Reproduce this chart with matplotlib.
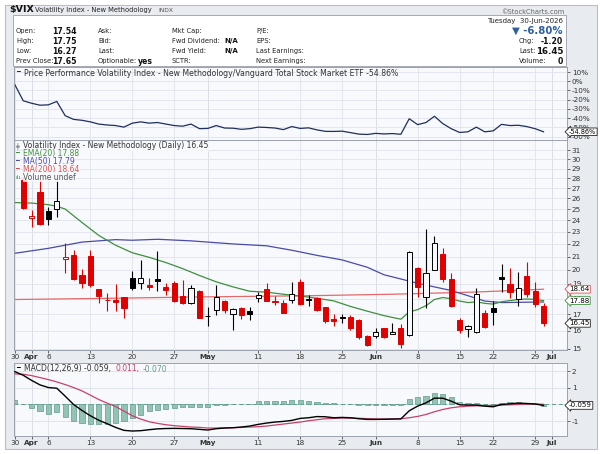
import numpy as np
import matplotlib.pyplot as plt
from matplotlib.patches import Rectangle

W, H = 600, 454

# trading days Mar 30 .. Jun 30 2026, index 0 = Mar 30
n_days = 64
tick_pos = [0, 2, 4, 9, 14, 19, 23, 29, 34, 39, 43, 48, 53, 57, 62, 64]
tick_text = ['30', 'Apr', '6', '13', '20', '27', 'May', '11', '18', '25', 'Jun', '8', '15', '22', '29', 'Jul']
month_pos = [2, 23, 43, 64]

# daily candles from Mar 31 (index 1) to Jun 30 (index 63)
opens = [27.8, 24.15, 26.6, 24.8, 25.0, 20.8, 21.1, 19.6, 21.05, 18.65,
         17.92, 17.92, 18.1, 19.45, 19.05, 18.9, 19.33, 18.77, 19.1, 18.2,
         17.72, 18.55, 16.88, 17.28, 17.83, 17.0, 17.42, 17.23, 18.05, 18.65,
         17.86, 17.7, 17.92, 19.17, 17.98, 18.08, 17.45, 16.72, 16.85, 16.85,
         16.66, 15.7, 15.73, 16.16, 15.83, 16.2, 15.77, 20.13, 18.1, 20.0,
         21.2, 19.35, 16.66, 16.1, 15.96, 17.1, 17.39, 19.5, 19.0, 17.98,
         19.55, 18.5, 17.54]
highs = [28.1, 24.9, 27.8, 25.2, 27.7, 22.05, 21.5, 20.1, 21.5, 18.65,
         18.4, 19.0, 18.1, 19.9, 20.75, 19.4, 21.45, 19.1, 19.23, 19.3,
         18.9, 18.6, 17.45, 18.9, 17.92, 17.4, 17.48, 17.45, 18.47, 19.05,
         18.19, 17.92, 19.17, 19.33, 18.25, 18.14, 17.48, 17.02, 17.0, 16.96,
         16.7, 15.75, 16.2, 16.2, 16.47, 16.4, 21.45, 20.25, 23.2, 22.65,
         21.65, 19.77, 16.76, 16.35, 18.7, 17.28, 17.83, 20.42, 20.17, 19.87,
         20.6, 19.17, 17.75]
lows = [25.0, 23.4, 23.6, 23.6, 24.25, 19.8, 19.3, 18.7, 18.8, 17.75,
        17.23, 17.23, 16.75, 18.6, 18.65, 18.58, 18.55, 18.25, 17.8, 17.65,
        17.66, 16.75, 16.3, 16.96, 17.07, 16.05, 16.7, 16.66, 17.77, 17.83,
        17.6, 17.07, 17.7, 17.6, 17.55, 17.23, 16.5, 16.3, 16.45, 16.06,
        15.52, 15.12, 15.57, 15.6, 15.8, 15.05, 15.68, 18.14, 17.4, 19.97,
        19.17, 17.45, 15.86, 15.63, 15.9, 16.2, 16.35, 18.47, 18.03, 17.55,
        18.14, 17.45, 16.27]
closes = [25.1, 24.4, 23.7, 24.1, 25.7, 20.95, 19.35, 19.1, 18.9, 18.2,
          17.9, 17.78, 17.4, 18.75, 19.4, 18.78, 19.2, 18.6, 17.88, 17.7,
          18.7, 16.76, 16.9, 18.14, 17.28, 17.32, 16.96, 17.03, 18.27, 17.86,
          17.77, 17.1, 18.3, 17.66, 17.93, 17.28, 16.6, 16.58, 16.76, 16.16,
          15.63, 15.2, 15.92, 15.63, 15.96, 15.25, 21.38, 18.8, 19.77, 22.1,
          19.33, 17.55, 16.06, 16.3, 18.3, 16.26, 17.12, 19.35, 18.47, 18.74,
          18.3, 17.65, 16.45]
mar30_close = 30.9

ema_days = [0, 2, 4, 5, 6, 8, 10, 12, 14, 16, 18, 20, 22, 24, 26, 28, 30, 32, 34,
            36, 38, 40, 42, 44, 46, 47, 48, 49, 50, 51, 52, 53, 54, 55, 56, 57,
            58, 59, 60, 61, 62, 63]
ema20 = [25.6, 25.55, 25.4, 25.25, 25.0, 23.8, 22.7, 21.9, 21.3, 20.95, 20.55,
         20.1, 19.6, 19.15, 18.8, 18.5, 18.44, 18.3, 18.18, 18.03, 17.86, 17.5,
         17.2, 16.92, 16.7, 17.15, 17.3, 17.55, 17.95, 18.08, 18.0, 17.85, 17.75,
         17.8, 17.7, 17.65, 17.8, 17.88, 17.95, 17.98, 17.96, 17.88]
ma50_days = [0, 4, 8, 12, 14, 17, 21, 26, 30, 33, 36, 39, 42, 44, 46, 48, 52,
             54, 56, 58, 63]
ma50 = [21.26, 21.65, 22.15, 22.35, 22.3, 22.38, 22.25, 22.0, 21.85, 21.5, 21.1,
        20.75, 20.2, 19.65, 19.35, 19.05, 18.55, 18.2, 17.85, 17.75, 17.79]
ma200_days = [0, 10, 22, 35, 45, 55, 63]
ma200 = [17.95, 18.02, 18.12, 18.2, 18.3, 18.45, 18.64]

perf = [-3.7, -21.2, -23.9, -26.0, -25.6, -21.9, -37.4, -41.4, -42.4, -44.1,
        -46.5, -47.5, -48.1, -49.8, -45.5, -44.1, -45.5, -44.8, -46.5, -48.1,
        -48.8, -46.5, -51.5, -51.2, -48.1, -50.8, -51.0, -52.2, -51.5, -49.8,
        -50.2, -50.8, -52.5, -49.2, -51.2, -50.6, -52.8, -54.4, -54.5, -54.2,
        -55.8, -57.4, -57.8, -56.6, -57.2, -56.8, -57.6, -40.7, -47.1, -44.8,
        -38.0, -46.0, -51.5, -55.6, -54.9, -49.8, -54.9, -53.9, -46.8, -48.1,
        -47.8, -49.2, -51.5, -54.86]

macd = [1.98, 1.76, 1.45, 1.18, 1.02, 0.98, 0.5, 0.0, -0.36, -0.68,
        -0.95, -1.16, -1.38, -1.56, -1.6, -1.58, -1.52, -1.47, -1.45, -1.44,
        -1.45, -1.46, -1.5, -1.54, -1.46, -1.42, -1.4, -1.36, -1.3, -1.2,
        -1.12, -1.06, -1.02, -0.96, -0.84, -0.8, -0.73, -0.74, -0.8, -0.78,
        -0.8, -0.86, -0.9, -0.9, -0.89, -0.88, -0.87, -0.38, -0.1, 0.1,
        0.38, 0.38, 0.2, -0.02, -0.04, -0.04, -0.1, -0.14, 0.0, 0.04,
        0.08, 0.06, 0.03, -0.059]
signal = [1.84, 1.82, 1.74, 1.62, 1.5, 1.36, 1.2, 1.02, 0.82, 0.56,
          0.3, 0.08, -0.12, -0.4, -0.68, -0.88, -1.04, -1.14, -1.22, -1.28,
          -1.32, -1.36, -1.38, -1.42, -1.42, -1.41, -1.4, -1.38, -1.36, -1.34,
          -1.3, -1.24, -1.18, -1.12, -1.06, -0.98, -0.92, -0.86, -0.84, -0.82,
          -0.82, -0.83, -0.85, -0.87, -0.88, -0.87, -0.86, -0.8, -0.72, -0.6,
          -0.44, -0.3, -0.2, -0.14, -0.1, -0.08, -0.07, -0.06, -0.04, -0.02,
          0.0, 0.02, 0.03, 0.011]
hist = [0.3, 0.0, -0.2, -0.42, -0.56, -0.46, -0.76, -1.02, -1.12, -1.16,
        -1.16, -1.16, -1.12, -1.02, -0.82, -0.62, -0.42, -0.32, -0.26, -0.22,
        -0.16, -0.16, -0.14, -0.16, -0.04, -0.02, 0.0, 0.02, 0.04, 0.18,
        0.2, 0.2, 0.22, 0.24, 0.24, 0.22, 0.14, 0.1, 0.06, 0.04,
        0.0, -0.04, -0.06, -0.04, -0.02, -0.02, -0.04, 0.36, 0.44, 0.5,
        0.68, 0.62, 0.44, 0.16, 0.1, 0.06, 0.02, -0.04, 0.1, 0.12,
        0.12, 0.1, 0.04, -0.07]

PANEL = '#f8f9fc'
GRID = '#dfe3eb'
MONTH = '#c4c9d4'
SPINE = '#9ca2ad'
FS = 5.4
LFS = 4.9

fig = plt.figure(figsize=(6, 4.54), dpi=100)
fig.patch.set_facecolor('white')


def rect(l, t, r, b):
    return [l / W, 1 - b / H, (r - l) / W, (b - t) / H]


def ftext(x, y, s, **kw):
    kw.setdefault('fontsize', FS)
    kw.setdefault('va', 'center')
    return fig.text(x / W, 1 - y / H, s, **kw)


def value_box(a, val, txt, ec, fs=5.1):
    a.annotate(txt, xy=(1.0, val), xycoords=('axes fraction', 'data'),
               xytext=(1.5, 0), textcoords='offset points', fontsize=fs, va='center',
               annotation_clip=False, zorder=6,
               bbox=dict(boxstyle='larrow,pad=0.12', fc='white', ec=ec, lw=0.6))


fig.add_artist(Rectangle((5 / W, 1 - 449 / H), 592 / W, 444 / H, transform=fig.transFigure,
                         facecolor='#e8ebf0', edgecolor='#b9bec8', lw=0.8, zorder=-10))
fig.add_artist(Rectangle((13 / W, 1 - 66 / H), 553 / W, 51 / H, transform=fig.transFigure,
                         facecolor='white', edgecolor='#a4a9b3', lw=0.7, zorder=-5))

# header
ftext(9, 9.5, '$VIX', fontsize=6.8, fontweight='bold', color='#111')
ftext(35, 10, 'Volatility Index - New Methodology', fontsize=4.9, color='#222')
ftext(158, 10, 'INDX', fontsize=4.3, color='#555')
ftext(564, 12, '©StockCharts.com', fontsize=4.8, color='#666', ha='right')
ftext(563, 21, 'Tuesday  30-Jun-2026', color='#222', ha='right', fontsize=5.0)

rows_y = [31, 41, 51, 61]
col1 = [('Open:', '17.54'), ('High:', '17.75'), ('Low:', '16.27'), ('Prev Close:', '17.65')]
col2 = [('Ask:', ''), ('Bid:', ''), ('Last:', ''), ('Optionable:', 'yes')]
col3 = [('Mkt Cap:', ''), ('Fwd Dividend:', 'N/A'), ('Fwd Yield:', 'N/A'), ('SCTR:', '')]
col4 = ['P/E:', 'EPS:', 'Last Earnings:', 'Next Earnings:']
for y, (a, b), (c, d), (e, f), g in zip(rows_y, col1, col2, col3, col4):
    ftext(16, y, a, color='#222', fontsize=LFS)
    ftext(52, y, b, color='#111', fontweight='bold', fontsize=5.6)
    ftext(98, y, c, color='#222', fontsize=LFS)
    ftext(138, y, d, color='#111', fontweight='bold', fontsize=5.6)
    ftext(172, y, e, color='#222', fontsize=LFS)
    ftext(224, y, f, color='#111', fontweight='bold', fontsize=5.0)
    ftext(256, y, g, color='#222', fontsize=LFS)
ftext(563, 31, '▼ -6.80%', ha='right', color='#2f5f9e', fontweight='bold', fontsize=7.3)
ftext(519, 41, 'Chg:', color='#222', fontsize=LFS)
ftext(563, 41, '-1.20', ha='right', color='#111', fontweight='bold', fontsize=5.6)
ftext(519, 51, 'Last:', color='#222', fontsize=LFS)
ftext(563, 51, '16.45', ha='right', color='#111', fontweight='bold', fontsize=6.2)
ftext(519, 61, 'Volume:', color='#222', fontsize=LFS)
ftext(563, 61, '0', ha='right', color='#111', fontweight='bold', fontsize=5.6)

ax_p = fig.add_axes(rect(14, 67, 567, 140))
ax = fig.add_axes(rect(14, 140, 567, 350))
ax_m = fig.add_axes(rect(14, 363, 567, 436))

for a in (ax_p, ax, ax_m):
    a.set_facecolor(PANEL)
    a.set_xlim(-0.1, 65.8)
    a.set_xticks(tick_pos)
    a.grid(True, color=GRID, lw=0.6)
    a.set_axisbelow(True)
    for m in month_pos:
        a.axvline(m, color=MONTH, lw=0.7, zorder=0.5)
    for s in a.spines.values():
        s.set_color(SPINE)
        s.set_linewidth(0.7)
    a.yaxis.tick_right()
    a.tick_params(axis='y', labelsize=5.2, length=2, width=0.5, pad=1.5, colors='#333')
    a.tick_params(axis='x', labelsize=5.2, length=2, width=0.5, pad=1.0, colors='#333')

days = np.arange(n_days)

# price performance panel
ax_p.plot(days, perf, color='#1f2f5c', lw=0.9)
ax_p.set_ylim(-63.8, 15.5)
pct_ticks = list(range(10, -70, -10))
ax_p.set_yticks(pct_ticks)
ax_p.set_yticklabels([f'{v}%' for v in pct_ticks])
ax_p.tick_params(axis='x', labelbottom=False, length=0)
value_box(ax_p, perf[-1], '-54.86%', '#222', fs=4.7)
ftext(16, 73, '━', color='#1f2f5c', fontsize=4.5)
ftext(24, 73, 'Price Performance Volatility Index - New Methodology/Vanguard Total Stock Market ETF -54.86%',
      color='#333', fontsize=5.55)

# candlesticks
cdays = np.arange(1, n_days)
prev = [mar30_close] + closes[:-1]
for d, o, h, l, c, p in zip(cdays, opens, highs, lows, closes, prev):
    col = '#000000' if c >= p else '#e00000'
    ax.vlines(d, l, h, color=col, lw=0.8, zorder=3)
    lo, hi = min(o, c), max(o, c)
    face = PANEL if c > o else col
    ax.add_patch(Rectangle((d - 0.31, lo), 0.62, max(hi - lo, 0.04), facecolor=face,
                           edgecolor=col, lw=0.7, zorder=4))

ax.plot(ma200_days, ma200, color='#e46a6a', lw=0.9, zorder=2)
ax.plot(ma50_days, ma50, color='#4a4aa8', lw=0.9, zorder=2)
ax.plot(ema_days, ema20, color='#3f8f3f', lw=0.9, zorder=2)

ax.set_yscale('log')
ax.set_ylim(14.92, 32.19)
pticks = list(range(15, 32))
ax.set_yticks(pticks)
ax.set_yticklabels([str(v) for v in pticks])
ax.yaxis.set_minor_locator(plt.NullLocator())
ax.set_xticklabels(tick_text)
for lab in ax.get_xticklabels():
    if lab.get_text() in ('Apr', 'May', 'Jun', 'Jul'):
        lab.set_fontweight('bold')

for val, ec in [(18.64, '#e05050'), (17.88, '#3f8f3f'), (16.45, '#222')]:
    value_box(ax, val, f'{val:.2f}', ec)

leg = [('╪', 'Volatility Index - New Methodology (Daily) 16.45', '#444', '#333'),
       ('━', 'EMA(20) 17.88', '#3f8f3f', '#3f8f3f'),
       ('━', 'MA(50) 17.79', '#4a4aa8', '#4a4aa8'),
       ('━', 'MA(200) 18.64', '#e05050', '#e05050'),
       ('ılı', 'Volume undef', '#3f8f3f', '#555')]
for i, (icon, txt, ic, tc) in enumerate(leg):
    y = 146 + i * 7.8
    ftext(15.5, y, icon, color=ic, fontsize=4.5)
    ftext(23, y, txt, color=tc, fontsize=5.5,
          bbox=dict(fc=PANEL, ec='none', pad=0.2, alpha=0.85))

# MACD panel
ax_m.bar(days, hist, width=0.62, color='#92c3b4', edgecolor='#5f9c8c', lw=0.5, zorder=2)
ax_m.axhline(0, color='#5f9c8c', lw=0.7, ls=(0, (4, 3)), zorder=1.5)
ax_m.plot(days, signal, color='#c8416a', lw=0.9, zorder=3)
ax_m.plot(days, macd, color='#000000', lw=1.0, zorder=4)
ax_m.set_ylim(-1.9, 2.5)
ax_m.set_yticks([2, 1, -1])
ax_m.set_yticklabels(['2', '1', '-1'])
ax_m.set_xticklabels(tick_text)
for lab in ax_m.get_xticklabels():
    if lab.get_text() in ('Apr', 'May', 'Jun', 'Jul'):
        lab.set_fontweight('bold')
for yv in (2, 1, 0, -1):
    ax_m.axhline(yv, color=GRID, lw=0.6, zorder=0.4)
value_box(ax_m, macd[-1], '-0.059', '#222')
ftext(16, 369, '━', color='#000', fontsize=4.5)
ftext(24, 369, 'MACD(12,26,9) -0.059,', color='#333', fontsize=5.5)
ftext(116, 369, '0.011,', color='#c8416a', fontsize=5.5)
ftext(143, 369, '-0.070', color='#5f9c8c', fontsize=5.5)

fig.savefig('out.png', dpi=100, facecolor=fig.get_facecolor())
